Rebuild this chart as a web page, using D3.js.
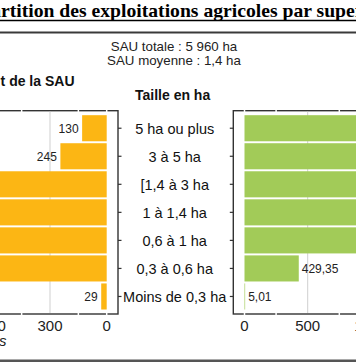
<!DOCTYPE html>
<html><head><meta charset="utf-8">
<script src="https://cdn.jsdelivr.net/npm/d3@7"></script>
<style>
html,body{margin:0;padding:0;background:#fff;overflow:hidden}
svg{display:block}
</style></head>
<body>
<script>
const categories = ["5 ha ou plus","3 à 5 ha","[1,4 à 3 ha","1 à 1,4 ha","0,6 à 1 ha","0,3 à 0,6 ha","Moins de 0,3 ha"];
const exploitations = [130, 245, 1000, 900, 1000, 950, 29];
const surfaces = [900, 950, 1700, 1050, 920, 429.35, 5.01];
const leftTicks = [0, 300, 600, 900, 1200];
const leftMinor = [150, 450, 750, 1050];
const rightTicks = [0, 500, 1000, 1500, 2000];
const rightMinor = [250, 750, 1250, 1750];
const title = "Répartition des exploitations agricoles par superficie";
const subtitle1 = "SAU totale : 5 960 ha";
const subtitle2 = "SAU moyenne : 1,4 ha";
const leftHeader = "t de la SAU";
const midHeader = "Taille en ha";
const leftAxisTitle = "Nombre d'exploitations";

(function () {
const W = 356, H = 364;
const ORANGE = "#fcb614", GREEN = "#a2cb58", FRAME = "#333", GRID = "#cfcfcf";
const fr = v => String(v).replace(".", ",");

const svg = d3.select("body").append("svg").attr("width", W).attr("height", H)
  .style("font-family", "'Liberation Sans', Arial, sans-serif");

// Title (wider than the window, clipped at both sides)
const t = svg.append("text").attr("y", 17).style("font-family", "'Liberation Serif', 'Times New Roman', serif")
  .style("font-weight", "bold").style("font-size", "20px").text("rtition des exploitations agricoles par supe");
const midW = t.node().getComputedTextLength();
const fs = 20 * 354 / midW;
t.style("font-size", fs + "px").text("Répa");
const pre2 = t.node().getComputedTextLength();
t.attr("x", 1 - pre2).text(title);
svg.append("line").attr("x1", 0).attr("x2", W).attr("y1", 20.5).attr("y2", 20.5).attr("stroke", "#000").attr("stroke-width", 1.5);
svg.append("line").attr("x1", 0).attr("x2", W).attr("y1", 32.5).attr("y2", 32.5).attr("stroke", "#3a3a3a").attr("stroke-width", 2);

svg.append("text").attr("x", 174).attr("y", 51).attr("text-anchor", "middle").style("font-size", "13.3px").attr("fill", "#222").text(subtitle1);
svg.append("text").attr("x", 174).attr("y", 64.5).attr("text-anchor", "middle").style("font-size", "13.3px").attr("fill", "#222").text(subtitle2);
svg.append("text").attr("x", 74.5).attr("y", 86).attr("text-anchor", "end").style("font-size", "14px").style("font-weight", "bold").attr("fill", "#111").text(leftHeader);
svg.append("text").attr("x", 135).attr("y", 99.5).style("font-size", "14px").style("font-weight", "bold").attr("fill", "#111").text(midHeader);

const yTop = 110.7, yBot = 314;
const y = d3.scaleBand().domain(categories).range([yTop, yBot]).paddingInner(0.07).paddingOuter(0.16);
const xL = d3.scaleLinear().domain([0, 1200]).range([106.7, 106.7 - 226.8]);
const xR = d3.scaleLinear().domain([0, 2000]).range([244.5, 244.5 + 252.8]);

function panel(x, minor, major, vals, color, frameX0, frameX1, tickX0, tickX1, side) {
  const g = svg.append("g");
  g.append("rect").attr("x", frameX0).attr("y", yTop).attr("width", frameX1 - frameX0).attr("height", yBot - yTop)
    .attr("fill", "none").attr("stroke", FRAME).attr("stroke-width", 1.4);
  g.selectAll(".mn").data(minor.concat([0])).join("line")
    .attr("x1", d => x(d)).attr("x2", d => x(d)).attr("y1", yTop - 1.5).attr("y2", yBot + 3)
    .attr("stroke", "#fff").attr("stroke-width", 1.5);
  g.selectAll(".mj").data(major.filter(d => d > 0)).join("line")
    .attr("x1", d => x(d)).attr("x2", d => x(d)).attr("y1", yTop + 1).attr("y2", yBot - 1)
    .attr("stroke", GRID).attr("stroke-width", 1);
  g.selectAll(".bar").data(vals).join("rect")
    .attr("x", d => Math.min(x(0), x(d))).attr("width", d => Math.abs(x(d) - x(0)))
    .attr("y", (d, i) => y(categories[i])).attr("height", y.bandwidth()).attr("fill", color);
  g.selectAll(".yt").data(categories).join("line")
    .attr("x1", tickX0).attr("x2", tickX1).attr("y1", d => y(d) + y.bandwidth() / 2).attr("y2", d => y(d) + y.bandwidth() / 2)
    .attr("stroke", FRAME).attr("stroke-width", 1.2);
  g.selectAll(".vl").data(vals).join("text")
    .attr("x", d => side === "left" ? x(d) - 3.5 : x(d) + 3)
    .attr("y", (d, i) => y(categories[i]) + y.bandwidth() / 2 + 4.3)
    .attr("text-anchor", side === "left" ? "end" : "start")
    .style("font-size", "12px").attr("fill", "#222").text(d => fr(d));
  g.selectAll(".xl").data(major).join("text")
    .attr("x", d => x(d)).attr("y", 330.5).attr("text-anchor", "middle")
    .style("font-size", "15px").attr("fill", "#222").text(d => fr(d));
}
panel(xL, leftMinor, leftTicks, exploitations, ORANGE, -300, 118, 118, 121.5, "left");
panel(xR, rightMinor, rightTicks, surfaces, GREEN, 233.3, 700, 229.8, 233.3, "right");

svg.selectAll(".cat").data(categories).join("text")
  .attr("x", 174.7).attr("y", d => y(d) + y.bandwidth() / 2 + 5.3).attr("text-anchor", "middle")
  .style("font-size", "14.5px").attr("fill", "#111").text(d => d);

svg.append("text").attr("x", 6.5).attr("y", 346).attr("text-anchor", "end").style("font-size", "15px")
  .style("font-style", "italic").attr("fill", "#222").text(leftAxisTitle);

svg.append("line").attr("x1", 0).attr("x2", W).attr("y1", 360.7).attr("y2", 360.7).attr("stroke", "#555").attr("stroke-width", 2.5);
})();
</script>
</body></html>
